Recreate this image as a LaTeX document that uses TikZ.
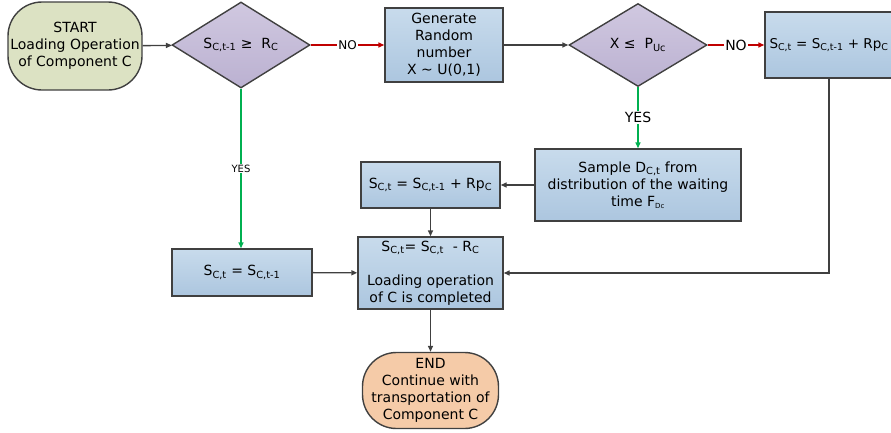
\documentclass[tikz,border=0pt]{standalone}
\usepackage{fontspec}
\setmainfont{DejaVu Sans}
\usepackage{tikz}
\usetikzlibrary{shapes,arrows.meta,positioning,calc}

\definecolor{lineGray}{HTML}{404040}
\definecolor{boxTop}{HTML}{C8DBEC}
\definecolor{boxBot}{HTML}{ACC6DF}
\definecolor{decTop}{HTML}{D0C8E0}
\definecolor{decBot}{HTML}{BBB1D1}
\definecolor{startFill}{HTML}{DCE2C3}
\definecolor{endFill}{HTML}{F5CBA8}
\definecolor{yesGreen}{HTML}{00B050}
\definecolor{noRed}{HTML}{C00000}

\newcommand{\sbs}[1]{\textsubscript{#1}}

\begin{document}
\begin{tikzpicture}[x=1pt,y=-1pt,
    every node/.style={font=\fontsize{14}{17}\selectfont, align=center},
    box/.style={rectangle, draw=lineGray, line width=1.4pt, top color=boxTop, bottom color=boxBot, inner sep=2pt},
    decision/.style={diamond, draw=lineGray, line width=1.4pt, top color=decTop, bottom color=decBot, inner sep=0pt, aspect=1.6},
    terminal/.style={rectangle, rounded corners=34pt, draw=lineGray, line width=1.4pt, inner sep=1pt},
    flow/.style={draw=lineGray, line width=1.4pt, -{Triangle[length=6pt,width=5pt]}},
    yesflow/.style={flow, draw=yesGreen},
    noflow/.style={flow, draw=noRed},
    tag/.style={fill=white, inner sep=1pt, font=\fontsize{12}{14}\selectfont}]

    \useasboundingbox (0,0) rectangle (891,432);

    % Top row
    \node[terminal, fill=startFill, minimum width=134pt, minimum height=88pt] (start) at (75,46)
        {START\\Loading Operation\\of Component C};
    \node[decision, minimum width=138pt, minimum height=86pt] (chkStock) at (241,45)
        {S\sbs{C,t-1} ≥\ \ R\sbs{C}};
    \node[box, minimum width=118pt, minimum height=74pt] (genX) at (444,45)
        {Generate\\Random\\number\\X \textasciitilde{} U(0,1)};
    \node[decision, minimum width=138pt, minimum height=83pt] (chkProb) at (638,45)
        {X ≤\ \ P\sbs{Uc}};
    \node[box, minimum width=128pt, minimum height=66pt, font=\fontsize{13.5}{16}\selectfont] (addTop) at (829,45)
        {S\sbs{C,t} = S\sbs{C,t-1} + Rp\sbs{C}};

    % Middle and bottom
    \node[box, minimum width=206pt, minimum height=72pt] (sample) at (638,185)
        {Sample D\sbs{C,t} from\\distribution of the waiting\\time F\sbs{\scriptsize Dc}};
    \node[box, minimum width=139pt, minimum height=46pt] (addMid) at (430.5,185)
        {S\sbs{C,t} = S\sbs{C,t-1} + Rp\sbs{C}};
    \node[box, minimum width=145pt, minimum height=72pt] (load) at (430.5,273)
        {S\sbs{C,t}= S\sbs{C,t}\ \ - R\sbs{C}\\[17pt]Loading operation\\of C is completed};
    \node[box, minimum width=140pt, minimum height=47pt] (keep) at (242,272.5)
        {S\sbs{C,t} = S\sbs{C,t-1}};
    \node[terminal, fill=endFill, minimum width=136pt, minimum height=76pt] (finish) at (430.5,390.5)
        {END\\Continue with\\transportation of\\Component C};

    % Connectors
    \draw[flow] (start) -- (chkStock);
    \draw[noflow] (chkStock) -- node[tag]{NO} (genX);
    \draw[flow] (genX) -- (chkProb);
    \draw[noflow] (chkProb) -- node[tag, font=\fontsize{14}{16}\selectfont]{NO} (addTop);
    \draw[yesflow] (chkProb) -- node[tag, font=\fontsize{14}{16}\selectfont]{YES} (sample);
    \draw[yesflow] (chkStock.south) -- node[tag, font=\fontsize{10}{12}\selectfont]{YES} (chkStock.south |- keep.north);
    \draw[flow] (sample) -- (addMid);
    \draw[flow] (addMid) -- (load);
    \draw[flow] (keep) -- (load);
    \draw[flow] (addTop.south) |- (load.east);
    \draw[flow] (load) -- (finish);
\end{tikzpicture}
\end{document}
